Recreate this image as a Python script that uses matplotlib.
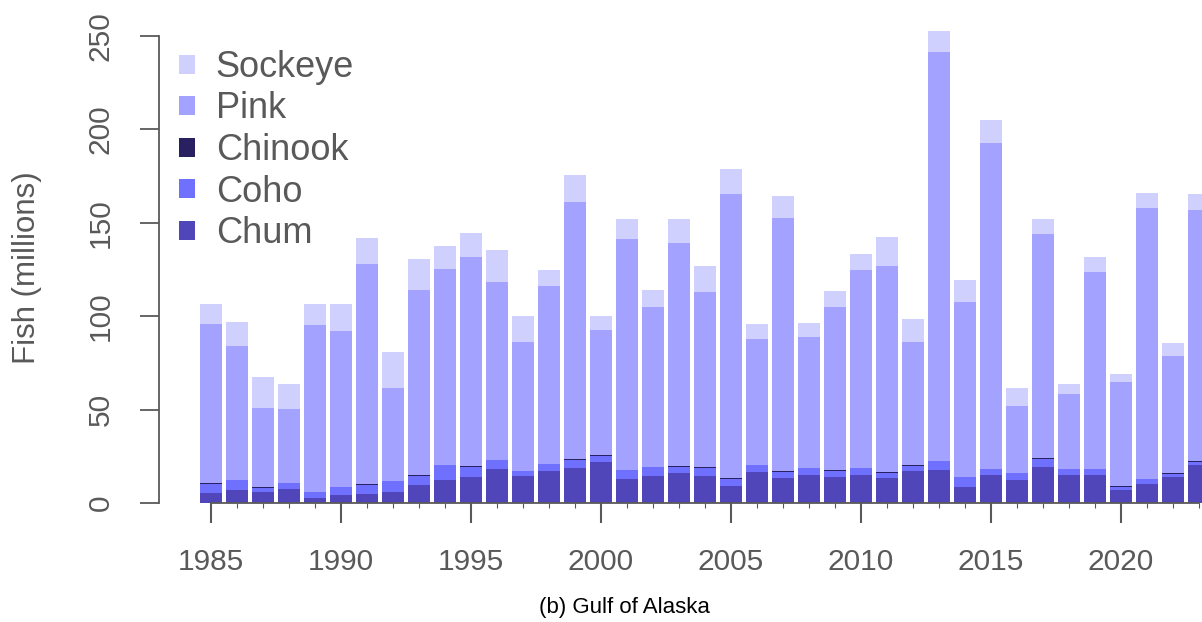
import numpy as np
import matplotlib.pyplot as plt
from matplotlib.patches import Patch

years = np.arange(1985, 2024)

# catch in millions of fish
chum = [5.3, 7.0, 5.9, 7.5, 2.7, 4.3, 4.8, 5.9, 9.6, 12.3,
        13.9, 18.1, 14.4, 17.1, 18.6, 21.9, 12.8, 14.4, 16.1, 14.4,
        9.1, 16.6, 13.4, 15.0, 13.9, 15.0, 13.4, 17.1, 17.7, 8.6,
        15.0, 12.3, 19.3, 15.0, 15.0, 7.0, 10.2, 13.9, 20.3]
coho = [5.0, 5.3, 2.3, 3.2, 3.2, 4.3, 4.8, 5.9, 4.8, 8.0,
        5.4, 4.8, 2.7, 3.7, 4.3, 3.2, 4.9, 4.9, 3.2, 4.3,
        3.7, 3.7, 3.4, 3.7, 3.4, 3.7, 2.8, 2.7, 4.8, 5.3,
        3.2, 3.8, 4.2, 3.2, 3.2, 1.6, 2.6, 1.6, 1.8]
chinook = [0.5, 0.2, 0.5, 0.2, 0.2, 0.2, 0.5, 0.2, 0.5, 0.2,
           0.5, 0.2, 0.2, 0.2, 0.5, 0.5, 0.2, 0.2, 0.5, 0.5,
           0.5, 0.2, 0.5, 0.2, 0.5, 0.2, 0.5, 0.5, 0.2, 0.2,
           0.2, 0.2, 0.5, 0.2, 0.2, 0.5, 0.2, 0.5, 0.5]
pink = [85.0, 71.5, 42.2, 39.4, 89.2, 83.3, 117.8, 49.6, 99.1, 104.8,
        111.9, 95.2, 68.9, 95.2, 137.7, 67.0, 123.4, 85.4, 119.4, 93.8,
        152.1, 67.3, 135.3, 70.0, 87.1, 105.8, 110.2, 65.9, 218.7, 93.5,
        174.3, 35.7, 120.0, 40.0, 105.3, 55.7, 144.9, 62.7, 134.3]
sockeye = [10.7, 12.9, 16.6, 13.4, 11.2, 14.4, 14.0, 19.2, 16.6, 12.3,
           12.8, 17.1, 13.9, 8.5, 14.5, 7.5, 10.7, 9.1, 12.8, 13.9,
           13.4, 8.0, 11.7, 7.5, 8.6, 8.6, 15.5, 12.3, 11.3, 11.8,
           12.3, 9.6, 8.0, 5.3, 8.0, 4.3, 8.1, 7.0, 8.5]

species = ['Chum', 'Coho', 'Chinook', 'Pink', 'Sockeye']
colors = {'Chum': '#5046B9', 'Coho': '#7070FF', 'Chinook': '#282060',
          'Pink': '#A3A3FF', 'Sockeye': '#D0D0FF'}
series = {'Chum': chum, 'Coho': coho, 'Chinook': chinook,
          'Pink': pink, 'Sockeye': sockeye}

grey = '#595959'
plt.rcParams['font.family'] = ['Liberation Sans', 'DejaVu Sans']

W, H = 1202, 622
fig = plt.figure(figsize=(W / 100, H / 100), dpi=100)
ax = fig.add_axes([159 / W, (H - 503) / H, (W - 159) / W, (503 - 20) / H])

bottom = np.zeros(len(years))
for sp in species:
    vals = np.array(series[sp])
    ax.bar(years, vals, bottom=bottom, width=0.85, color=colors[sp],
           edgecolor='none', linewidth=0)
    bottom += vals

ax.set_xlim(1983.0, 1985 + (W - 211) / 26)
ax.set_ylim(0, 483 / 1.868)

# R-style axes: lines only across the data range
for s in ['top', 'right']:
    ax.spines[s].set_visible(False)
ax.spines['left'].set_bounds(0, 250)
ax.spines['bottom'].set_bounds(1985, 2023)
for s in ['left', 'bottom']:
    ax.spines[s].set_color(grey)
    ax.spines[s].set_linewidth(1.3)

ax.set_yticks(np.arange(0, 251, 50))
ax.set_yticklabels([str(v) for v in range(0, 251, 50)], rotation=90,
                   va='center', fontsize=21.5, color=grey)
ax.tick_params(axis='y', length=13.7, width=1.3, color=grey, pad=18)

ax.set_xticks(np.arange(1985, 2021, 5))
ax.set_xticklabels([str(v) for v in range(1985, 2021, 5)],
                   fontsize=21.5, color=grey)
ax.set_xticks(years, minor=True)
ax.tick_params(axis='x', which='major', length=14.4, width=1.5, color=grey, pad=18)
ax.tick_params(axis='x', which='minor', length=3.6, width=0.8, color=grey)

fig.text(27 / W, 1 - 268 / H, 'Fish (millions)', rotation=90,
         ha='center', va='center', fontsize=22.5, color=grey)

handles = [Patch(facecolor=colors[sp], edgecolor='none') for sp in species[::-1]]
fig.legend(handles, species[::-1], loc='upper left',
           bbox_to_anchor=(179 / W, 1 - 50 / H), frameon=False,
           fontsize=26, labelcolor=grey, borderpad=0, borderaxespad=0,
           handlelength=0.44, handleheight=0.44, handletextpad=0.58,
           labelspacing=0.18)

fig.text(624 / W, 1 - 607 / H, '(b) Gulf of Alaska', ha='center', va='center',
         fontsize=16, color='black')

fig.savefig('out.png', dpi=100)
